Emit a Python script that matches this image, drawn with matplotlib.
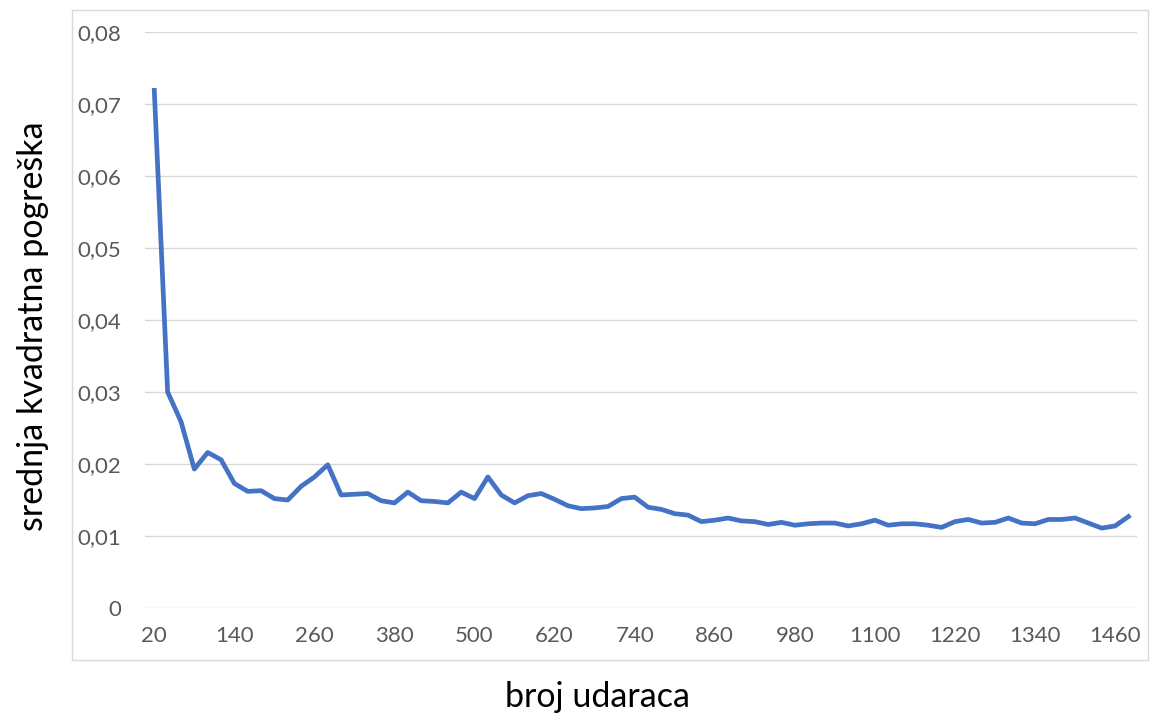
import matplotlib.pyplot as plt
from matplotlib.patches import Rectangle

# broj udaraca (kategorije) i srednja kvadratna pogreska
udarci = list(range(20, 1481, 20))
pogreska = [0.0719, 0.0300, 0.0259, 0.0193, 0.0216, 0.0206, 0.0173, 0.0162, 0.0163, 0.0152,
            0.0150, 0.0169, 0.0182, 0.0199, 0.0157, 0.0158, 0.0159, 0.0149, 0.0146, 0.0161,
            0.0149, 0.0148, 0.0146, 0.0161, 0.0152, 0.0182, 0.0157, 0.0146, 0.0156, 0.0159,
            0.0151, 0.0142, 0.0138, 0.0139, 0.0141, 0.0152, 0.0154, 0.0140, 0.0137, 0.0131,
            0.0129, 0.0120, 0.0122, 0.0125, 0.0121, 0.0120, 0.0116, 0.0119, 0.0115, 0.0117,
            0.0118, 0.0118, 0.0114, 0.0117, 0.0122, 0.0115, 0.0117, 0.0117, 0.0115, 0.0112,
            0.0120, 0.0123, 0.0118, 0.0119, 0.0125, 0.0118, 0.0117, 0.0123, 0.0123, 0.0125,
            0.0118, 0.0111, 0.0114, 0.0127]
y_ticks = [0, 0.01, 0.02, 0.03, 0.04, 0.05, 0.06, 0.07, 0.08]

plt.rcParams['font.family'] = ['Lato', 'DejaVu Sans']

fig = plt.figure(figsize=(11.55, 7.17), dpi=100)
fig.patches.append(Rectangle((0.0623, 0.0795), 0.9317, 0.9065, transform=fig.transFigure,
                             fill=False, edgecolor='#D9D9D9', linewidth=1))
ax = fig.add_axes([0.1255, 0.152, 0.859, 0.8033])

idx = list(range(len(udarci)))
ax.plot(idx, pogreska, color='#4472C4', linewidth=3.4, solid_joinstyle='round')

ax.set_xlim(-0.7, len(udarci) - 0.35)
ax.set_ylim(0, 0.08)
ax.set_yticks(y_ticks)
ax.set_yticklabels(['0' if v == 0 else f'{v:.2f}'.replace('.', ',') for v in y_ticks])
ax.set_xticks(idx[::6])
ax.set_xticklabels([str(u) for u in udarci[::6]])
ax.grid(axis='y', color='#D9D9D9', linewidth=1)
ax.set_axisbelow(True)
for s in ax.spines.values():
    s.set_visible(False)
ax.tick_params(length=0, labelsize=16, colors='#595959')
ax.tick_params(axis='y', pad=17)
ax.tick_params(axis='x', pad=13)

fig.text(0.517, 0.028, 'broj udaraca', fontsize=24.5, ha='center', va='center')
fig.text(0.029, 0.545, 'srednja kvadratna pogreška', fontsize=24.5, rotation=90,
         ha='center', va='center')

fig.savefig('out.png')
